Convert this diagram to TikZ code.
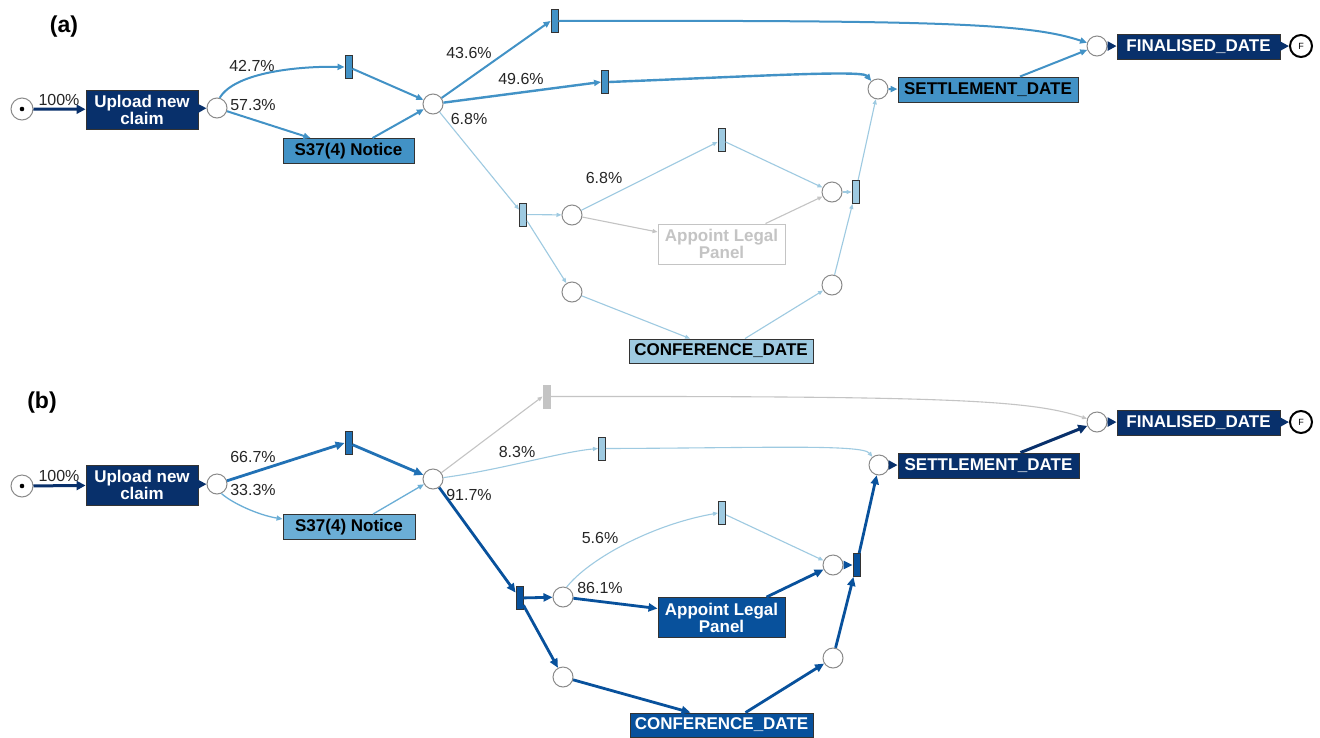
\documentclass[tikz,border=0pt]{standalone}
\usepackage{fontspec}
\setmainfont{Liberation Sans}
\usetikzlibrary{arrows.meta,calc}
\definecolor{navy}{HTML}{08306B}
\definecolor{bD}{HTML}{08519C}
\definecolor{bD2}{HTML}{2171B5}
\definecolor{bM}{HTML}{4292C6}
\definecolor{bM2}{HTML}{6BAED6}
\definecolor{bL}{HTML}{9ECAE1}
\definecolor{gC}{HTML}{C4C4C4}
\definecolor{pl}{HTML}{8A8A8A}
\tikzset{
  place/.style={circle, draw=pl, line width=1pt, fill=white, minimum size=20pt, inner sep=0pt},
  startp/.style={circle, draw=pl, line width=1pt, fill=white, minimum size=22pt, inner sep=0pt},
  endp/.style={circle, draw=black, line width=2pt, fill=white, minimum size=22pt, inner sep=0pt, font=\fontsize{9}{9}\selectfont},
  trans/.style={rectangle, draw=black!80, line width=0.9pt, minimum width=7pt, minimum height=23pt, inner sep=0pt},
  act/.style={rectangle, draw=black!80, line width=0.9pt, inner sep=0pt, align=center, font=\bfseries\fontsize{17}{17}\selectfont},
  lbl/.style={inner sep=0pt, text=black!85, font=\fontsize{16}{18}\selectfont},
  panel/.style={inner sep=0pt, font=\bfseries\fontsize{23}{23}\selectfont},
  navyE/.style={draw=navy, line width=3pt, -{Triangle[length=9pt,width=9pt]}},
  darkE/.style={draw=bD, line width=2.8pt, -{Triangle[length=9pt,width=8pt]}},
  medE/.style={draw=bM, line width=2pt, -{Triangle[length=7pt,width=6pt]}},
  midE/.style={draw=bM2, line width=1.3pt, -{Triangle[length=6pt,width=5pt]}},
  lightE/.style={draw=bL, line width=1.1pt, -{Triangle[length=5pt,width=4pt]}},
  grayE/.style={draw=gC, line width=1.1pt, -{Triangle[length=5pt,width=4pt]}},
}
\begin{document}
\begin{tikzpicture}[x=1pt,y=-1pt]
\useasboundingbox[fill=white] (0,0) rectangle (1320,737);

% ================= (a) =================
\node[panel] (la) at (64,27) {(a)};
\node[startp] (sA) at (22,109) {};
\fill[black] (sA.center) circle (2.3);
\node[act, fill=navy, text=white, minimum width=112, minimum height=39] (upA) at (142,109.5) {Upload new\\claim};
\node[place] (pA1) at (217,108) {};
\node[trans, fill=bM] (tA1) at (348.5,67) {};
\node[act, fill=bM, minimum width=131, minimum height=25] (sA37) at (348.5,151) {S37(4) Notice};
\node[place] (pA2) at (433,104) {};
\node[trans, fill=bM] (tA2) at (554.5,21) {};
\node[trans, fill=bM] (tA3) at (605,82) {};
\node[place] (pAs) at (878,89) {};
\node[act, fill=bM, minimum width=180, minimum height=25] (setA) at (988,89.5) {SETTLEMENT\_DATE};
\node[place] (pAf) at (1097,46) {};
\node[act, fill=navy, text=white, minimum width=163, minimum height=25] (finA) at (1198.5,46.5) {FINALISED\_DATE};
\node[endp] (eA) at (1301,46) {F};
\node[trans, fill=bL] (tA4) at (523,214.5) {};
\node[place] (pA3) at (572,215) {};
\node[place] (pA4) at (572,292) {};
\node[trans, fill=bL] (tA5) at (721.5,140) {};
\node[act, fill=white, draw=gC, text=gC, minimum width=127, minimum height=40] (apA) at (721.5,244) {Appoint Legal\\Panel};
\node[place] (pA5) at (832,192) {};
\node[trans, fill=bL] (tA6) at (855.5,192) {};
\node[place] (pA6) at (832,285) {};
\node[act, fill=bL, minimum width=184, minimum height=24] (cfA) at (721,351) {CONFERENCE\_DATE};

\node[lbl] (lA0) at (59,100) {100\%};
\node[lbl] (lA1) at (252,66) {42.7\%};
\node[lbl] (lA2) at (253,105) {57.3\%};
\node[lbl] (lA3) at (469,53) {43.6\%};
\node[lbl] (lA4) at (521,79) {49.6\%};
\node[lbl] (lA5) at (469,119) {6.8\%};
\node[lbl] (lA6) at (604,178) {6.8\%};

\draw[navyE] (sA) -- (upA);
\draw[navyE] (upA) -- (pA1);
\draw[medE] (pA1.75) .. controls (235,72) and (300,66) .. (tA1.west);
\draw[medE] (pA1) -- ($(sA37.north)+(-38,0)$);
\draw[medE] (tA1) -- (pA2);
\draw[medE] ($(sA37.north)+(24,0)$) -- (pA2);
\draw[medE] (pA2) -- (tA2.west);
\draw[medE, line width=2.4pt] (pA2) -- (tA3.west);
\draw[lightE] (pA2) -- (tA4);
\draw[medE] (tA2.east) .. controls (950,20) and (1030,24) .. (pAf);
\draw[medE, line width=2.4pt] (tA3.east) .. controls (760,76) and (862,70) .. (pAs);
\draw[medE] (pAs) -- (setA);
\draw[medE] ($(setA.north)+(32,0)$) -- (pAf);
\draw[navyE] (pAf) -- (finA);
\draw[navyE] (finA) -- (eA);
\draw[lightE] (tA4) -- (pA3);
\draw[lightE] (tA4) -- (pA4);
\draw[lightE] (pA3) -- (tA5);
\draw[grayE] (pA3) -- ($(apA.west)+(0,-12)$);
\draw[grayE] ($(apA.north)+(44,0)$) -- (pA5);
\draw[lightE] (tA5) -- (pA5);
\draw[lightE] (pA5) -- (tA6);
\draw[lightE] (pA4) -- ($(cfA.north)+(-31,0)$);
\draw[lightE] ($(cfA.north)+(24,0)$) -- (pA6);
\draw[lightE] (pA6) -- (tA6);
\draw[lightE] (tA6) -- (pAs);

% ================= (b) =================
\node[panel] (lb) at (42,403) {(b)};
\node[startp] (sB) at (22,486) {};
\fill[black] (sB.center) circle (2.3);
\node[act, fill=navy, text=white, minimum width=112, minimum height=40] (upB) at (142,485) {Upload new\\claim};
\node[place] (pB1) at (217,484) {};
\node[trans, fill=bD2] (tB1) at (348.5,443) {};
\node[act, fill=bM2, minimum width=132, minimum height=25] (sB37) at (349,527) {S37(4) Notice};
\node[place] (pB2) at (433,479) {};
\node[trans, fill=gC, draw=gC] (tB2) at (546.5,396.5) {};
\node[trans, fill=bL] (tB3) at (602,448.5) {};
\node[place] (pBs) at (879,465) {};
\node[act, fill=navy, text=white, minimum width=181, minimum height=25] (setB) at (988.5,465.5) {SETTLEMENT\_DATE};
\node[place] (pBf) at (1097,422) {};
\node[act, fill=navy, text=white, minimum width=163, minimum height=25] (finB) at (1198.5,422.5) {FINALISED\_DATE};
\node[endp] (eB) at (1301,422) {F};
\node[trans, fill=bD] (tB4) at (519.5,598) {};
\node[place] (pB3) at (563,597) {};
\node[place] (pB4) at (563,677) {};
\node[trans, fill=bL] (tB5) at (722,513) {};
\node[act, fill=bD, text=white, minimum width=127, minimum height=40] (apB) at (721.5,617.5) {Appoint Legal\\Panel};
\node[place] (pB5) at (833,565) {};
\node[trans, fill=bD] (tB6) at (856.5,565) {};
\node[place] (pB6) at (833,658) {};
\node[act, fill=bD, text=white, minimum width=183, minimum height=24] (cfB) at (721.5,725) {CONFERENCE\_DATE};

\node[lbl] (lB0) at (59,476) {100\%};
\node[lbl] (lB1) at (253,457) {66.7\%};
\node[lbl] (lB2) at (253,490) {33.3\%};
\node[lbl] (lB3) at (517,452) {8.3\%};
\node[lbl] (lB4) at (469,495) {91.7\%};
\node[lbl] (lB5) at (600,538) {5.6\%};
\node[lbl] (lB6) at (600,588) {86.1\%};

\draw[navyE] (sB) -- (upB);
\draw[navyE] (upB) -- (pB1);
\draw[darkE, draw=bD2] (pB1) -- (tB1.west);
\draw[midE] (pB1.-65) .. controls (232,503) and (258,515) .. ($(sB37.west)+(0,-8)$);
\draw[darkE, draw=bD2] (tB1) -- (pB2);
\draw[midE] ($(sB37.north)+(24,0)$) -- (pB2);
\draw[grayE] (pB2) -- (tB2.west);
\draw[grayE] (tB2.east) .. controls (950,396) and (1030,400) .. (pBf);
\draw[lightE] (pB2) .. controls (500,470) and (560,452) .. (tB3.west);
\draw[lightE] (tB3.east) .. controls (760,448) and (862,444) .. (pBs);
\draw[darkE] (pB2) -- (tB4);
\draw[darkE] (tB4) -- (pB3);
\draw[darkE] (tB4) -- (pB4);
\draw[lightE] (pB3.70) .. controls (588,560) and (650,525) .. (tB5.west);
\draw[darkE] (pB3) -- ($(apB.west)+(0,-9)$);
\draw[darkE] ($(apB.north)+(45,0)$) -- (pB5);
\draw[lightE] (tB5) -- (pB5);
\draw[darkE] (pB5) -- (tB6);
\draw[darkE] (pB4) -- ($(cfB.north)+(-31,0)$);
\draw[darkE] ($(cfB.north)+(24,0)$) -- (pB6);
\draw[darkE] (pB6) -- (tB6);
\draw[darkE] (tB6) -- (pBs);
\draw[navyE] (pBs) -- (setB);
\draw[navyE] ($(setB.north)+(32,0)$) -- (pBf);
\draw[navyE] (pBf) -- (finB);
\draw[navyE] (finB) -- (eB);
\end{tikzpicture}
\end{document}
